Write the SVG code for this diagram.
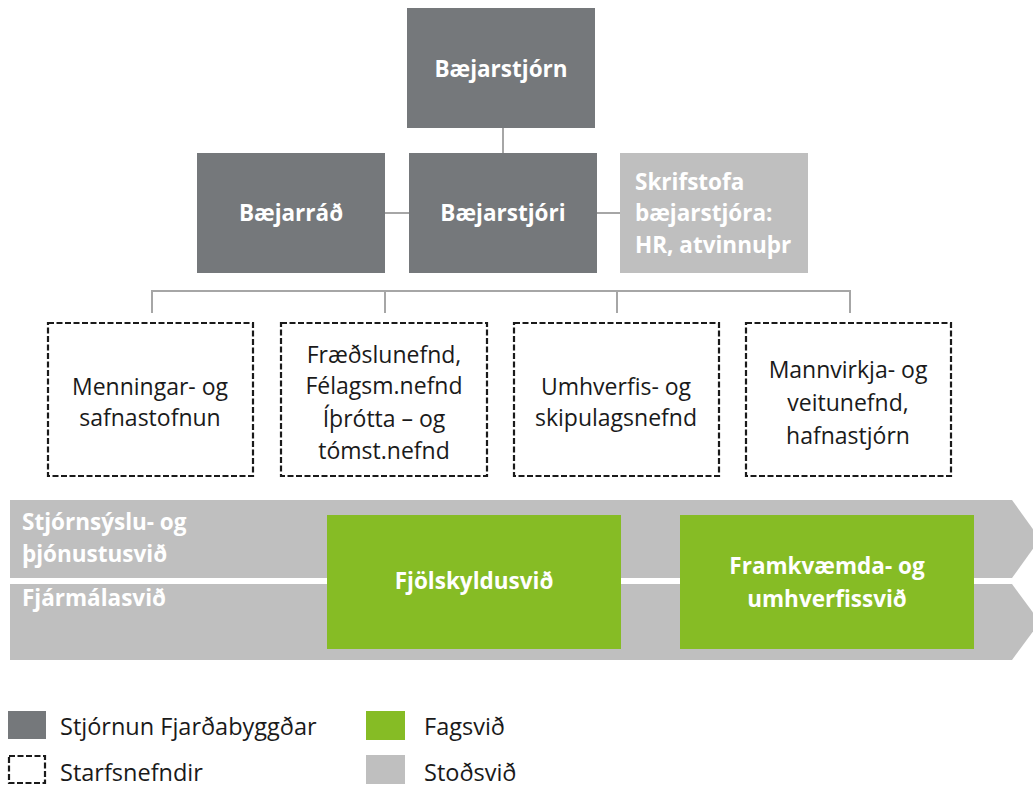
<svg xmlns="http://www.w3.org/2000/svg" width="1033" height="786" viewBox="0 0 1033 786">
<style>
.dark{fill:#75787b}
.light{fill:#bfbfbf}
.green{fill:#86bc25}
.dash{fill:#fff;stroke:#1a1a1a;stroke-width:2.2;stroke-dasharray:6 2.5}
.conn{stroke:#a6a6a6;stroke-width:2;fill:none}
.wb{font-family:"Open Sans","Liberation Sans",sans-serif;font-weight:bold;font-size:22.5px;fill:#fff}
.bt{font-family:"Open Sans","Liberation Sans",sans-serif;font-size:23px;fill:#1a1a1a;text-anchor:middle}
.lg{font-family:"Open Sans","Liberation Sans",sans-serif;font-size:23.5px;fill:#1a1a1a}
.c{text-anchor:middle}
</style>
<rect width="1033" height="786" fill="#fff"/>
<g id="connectors">
<line class="conn" x1="503" y1="128" x2="503" y2="153"/>
<line class="conn" x1="385" y1="213" x2="409" y2="213"/>
<line class="conn" x1="597" y1="213" x2="620" y2="213"/>
<polyline class="conn" points="152,313 152,291 850,291 850,313"/>
<line class="conn" x1="385" y1="291" x2="385" y2="313"/>
<line class="conn" x1="617" y1="291" x2="617" y2="313"/>
</g>
<g id="n-baejarstjorn"><rect class="dark" x="407" y="8" width="188" height="120"/><text class="wb c" x="501" y="77">Bæjarstjórn</text></g>
<g id="n-baejarrad"><rect class="dark" x="197" y="153" width="188" height="120"/><text class="wb c" x="291" y="221">Bæjarráð</text></g>
<g id="n-baejarstjori"><rect class="dark" x="409" y="153" width="188" height="120"/><text class="wb c" x="503" y="221">Bæjarstjóri</text></g>
<g id="n-skrifstofa"><rect class="light" x="620" y="153" width="188" height="120"/><text class="wb" x="635" y="190">Skrifstofa</text><text class="wb" x="635" y="221">bæjarstjóra:</text><text class="wb" x="635" y="253">HR, atvinnuþr</text></g>
<g id="n-menning"><rect class="dash" x="48" y="323" width="205" height="153"/><text class="bt" x="150" y="395">Menningar- og</text><text class="bt" x="150" y="426">safnastofnun</text></g>
<g id="n-fraedsla"><rect class="dash" x="281" y="323" width="206" height="153"/><text class="bt" x="384" y="363">Fræðslunefnd,</text><text class="bt" x="384" y="394">Félagsm.nefnd</text><text class="bt" x="384" y="427">Íþrótta – og</text><text class="bt" x="384" y="459">tómst.nefnd</text></g>
<g id="n-umhverfi"><rect class="dash" x="514" y="323" width="205" height="153"/><text class="bt" x="616" y="395">Umhverfis- og</text><text class="bt" x="616" y="426">skipulagsnefnd</text></g>
<g id="n-mannvirki"><rect class="dash" x="746" y="323" width="205" height="153"/><text class="bt" x="848" y="378">Mannvirkja- og</text><text class="bt" x="848" y="411">veitunefnd,</text><text class="bt" x="848" y="444">hafnastjórn</text></g>
<g id="n-stjornsysla"><polygon class="light" points="10,500 1012,500 1040,539 1012,578 10,578"/><text class="wb" x="22" y="530">Stjórnsýslu- og</text><text class="wb" x="22" y="562">þjónustusvið</text></g>
<g id="n-fjarmal"><polygon class="light" points="10,584 1012,584 1040,622 1012,660 10,660"/><text class="wb" x="22" y="606">Fjármálasvið</text></g>
<g id="n-fjolskylda"><rect class="green" x="327" y="515" width="294" height="134"/><text class="wb c" x="474" y="589">Fjölskyldusvið</text></g>
<g id="n-framkvaemd"><rect class="green" x="680" y="515" width="294" height="134"/><text class="wb c" x="827" y="574">Framkvæmda- og</text><text class="wb c" x="827" y="607">umhverfissvið</text></g>
<g id="legend">
<rect class="dark" x="8" y="711" width="38" height="28"/><text class="lg" x="60" y="735">Stjórnun Fjarðabyggðar</text>
<rect class="dash" x="9" y="756" width="36" height="27" stroke-width="1.8" stroke-dasharray="7 3"/><text class="lg" x="60" y="781">Starfsnefndir</text>
<rect class="green" x="366" y="711" width="39" height="29"/><text class="lg" x="424" y="735">Fagsvið</text>
<rect class="light" x="366" y="755" width="39" height="29"/><text class="lg" x="424" y="781">Stoðsvið</text>
</g>
</svg>
